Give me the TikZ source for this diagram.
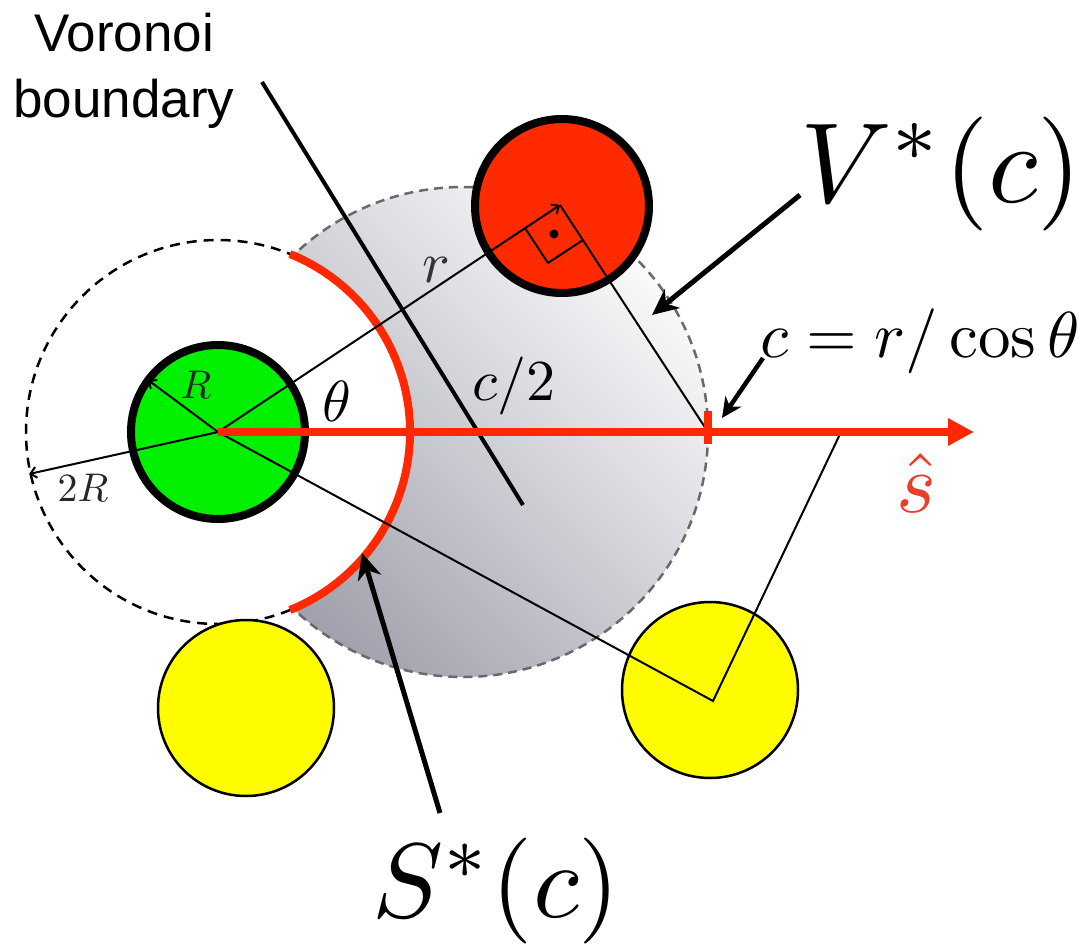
\RequirePackage{fix-cm}
\documentclass[tikz,border=0pt]{standalone}
\usepackage{graphicx}
\usepackage{fontspec}
\newfontfamily\labelsans{Liberation Sans}
\usetikzlibrary{arrows.meta}
\definecolor{ballgreen}{RGB}{0,240,0}
\definecolor{ballred}{RGB}{255,42,0}
\definecolor{ballyellow}{RGB}{255,252,0}
\definecolor{axisred}{RGB}{255,40,0}
\definecolor{hatred}{RGB}{232,62,42}
\definecolor{shadedark}{RGB}{160,160,172}
\definecolor{shadelight}{RGB}{250,250,252}
\definecolor{dashgray}{RGB}{105,105,105}
\tikzset{
  ball/.style={circle, draw=black, inner sep=0pt, outer sep=0pt},
  thinline/.style={line width=2pt, black},
  smallarrow/.style={thinline, -{Straight Barb[length=6pt,width=11pt]}},
  callout/.style={line width=5pt, black, -{Stealth[length=26pt,width=24pt,inset=8pt]}},
  smallcallout/.style={line width=4.5pt, black, -{Stealth[length=20pt,width=19pt,inset=6pt]}},
  redline/.style={axisred, line width=8pt},
  lbl/.style={inner sep=0pt, outer sep=0pt, font=\fontsize{10}{12}\selectfont}
}
\begin{document}
\begin{tikzpicture}[x=1pt,y=1pt]
\useasboundingbox (0,0) rectangle (1088,-946);
% key points
\coordinate (G) at (218,-432);
\coordinate (H) at (463,-432);
\coordinate (P) at (560,-205);
\coordinate (T) at (708,-432);
\coordinate (Q) at (713,-701);
\coordinate (F) at (841,-432);
\coordinate (Sq1) at (525,-228);
\coordinate (Sq2) at (548,-263);
\coordinate (Sq3) at (583,-240);
\coordinate (RTip) at (148,-380);
\coordinate (TwoRTip) at (29,-474);
\coordinate (AxEnd) at (974,-432);
\coordinate (TickTop) at (708,-411);
\coordinate (TickBot) at (708,-444);
\coordinate (VorTop) at (262,-82);
\coordinate (VorBot) at (523,-505);
% shaded disk of radius c/2
\shade[bottom color=shadedark, top color=shadelight, shading angle=-45] (H) circle (245);
\draw[dashgray, line width=2.5pt, dash pattern=on 9pt off 6pt] (H) circle (245);
% circle of radius 2R
\fill[white] (G) circle (192);
\draw[black, line width=2.5pt, dash pattern=on 10pt off 7pt] (G) circle (192);
\draw[redline] ([shift={(-68:192)}]G) arc[start angle=-68, end angle=68, radius=192];
% balls
\node[ball, fill=ballyellow, line width=2.5pt, minimum size=176pt] (yl) at (246,-708) {};
\node[ball, fill=ballyellow, line width=2.5pt, minimum size=176pt] (yr) at (710,-690) {};
\node[ball, fill=ballgreen, line width=8pt, minimum size=174pt] (green) at (G) {};
\node[ball, fill=ballred, line width=8pt, minimum size=174pt] (red) at (562,-206) {};
% Voronoi boundary
\draw[line width=4pt] (VorTop) -- (VorBot);
% construction lines
\draw[smallarrow] (G) -- (RTip);
\draw[smallarrow] (G) -- (TwoRTip);
\draw[smallarrow] (G) -- (P);
\draw[thinline] (P) -- (T);
\draw[thinline] (Sq1) -- (Sq2) -- (Sq3);
\fill (554,-234) circle (4.5);
\draw[thinline] (G) -- (Q) -- (F);
% direction axis
\draw[redline, -{Triangle[length=26pt,width=26pt]}] (G) -- (AxEnd);
\draw[redline] (TickTop) -- (TickBot);
% labels
\node[inner sep=0pt, anchor=north, align=center, font=\labelsans\fontsize{53}{66}\selectfont] (vor) at (124,-13) {Voronoi\\boundary};
\node[lbl, anchor=base west] (vlab) at (800,-202) {\scalebox{11.4}{$V^*(c)$}};
\node[lbl, anchor=base west] (slab) at (372,-917) {\scalebox{10.6}{$S^*(c)$}};
\node[lbl, anchor=base west] (clab) at (760,-357) {\scalebox{6.5}{$c=r/\cos\theta$}};
\node[lbl, anchor=base west] (chalf) at (472,-400) {\scalebox{5.8}{$c/2$}};
\node[lbl, text=black!80] (rlab) at (436,-270) {\scalebox{5.8}{$r$}};
\node[lbl] (thlab) at (337,-401) {\scalebox{5.8}{$\theta$}};
\node[lbl, text=black!85] (Rlab) at (196,-385) {\scalebox{4}{$R$}};
\node[lbl, text=black!85] (twoR) at (83,-488) {\scalebox{4}{$2R$}};
\node[lbl, text=hatred] (shat) at (916,-483) {\scalebox{8.5}{$\hat{s}$}};
% callout arrows
\coordinate (VFrom) at (800,-195);
\coordinate (VTo) at (652,-315);
\coordinate (CFrom) at (763,-358);
\coordinate (CTo) at (722,-418);
\coordinate (SFrom) at (440,-813);
\coordinate (STo) at (362,-553);
\draw[callout] (VFrom) -- (VTo);
\draw[smallcallout] (CFrom) -- (CTo);
\draw[callout] (SFrom) -- (STo);
\end{tikzpicture}
\end{document}
